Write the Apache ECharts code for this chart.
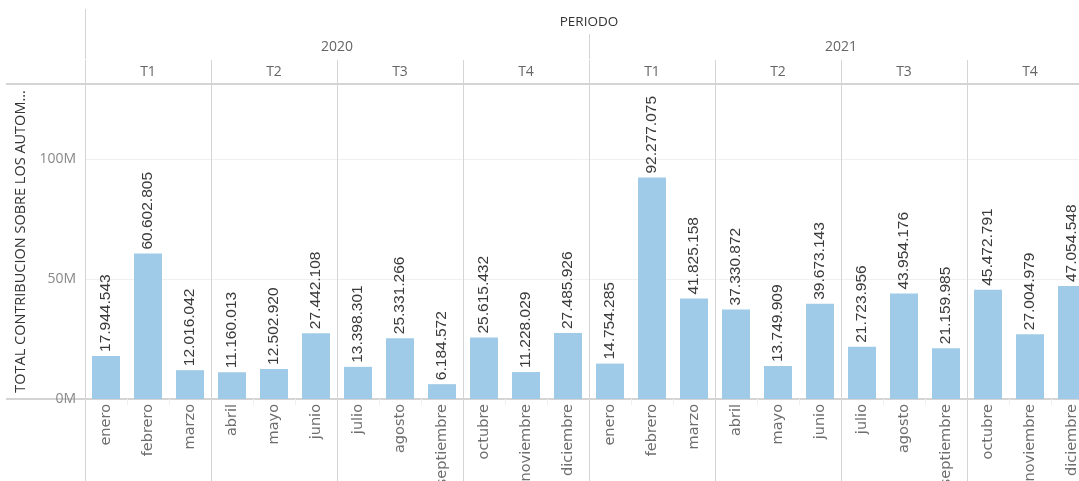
<!DOCTYPE html>
<html>
<head>
<meta charset="utf-8">
<script src="https://cdn.jsdelivr.net/npm/echarts@6/dist/echarts.min.js"></script>
<style>
html,body{margin:0;padding:0;background:#fff;}
#c{width:1079px;height:481px;}
</style>
</head>
<body>
<div id="c"></div>
<script>
const months = ["enero","febrero","marzo","abril","mayo","junio","julio","agosto","septiembre","octubre","noviembre","diciembre",
                "enero","febrero","marzo","abril","mayo","junio","julio","agosto","septiembre","octubre","noviembre","diciembre"];
const quarters = ["T1","T2","T3","T4","T1","T2","T3","T4"];
const years = ["2020","2021"];
const values2020 = [17944543,60602805,12016042,11160013,12502920,27442108,13398301,25331266,6184572,25615432,11228029,27485926];
const values2021 = [14754285,92277075,41825158,37330872,13749909,39673143,21723956,43954176,21159985,45472791,27004979,47054548];
const values = values2020.concat(values2021);
const yTitle = "TOTAL CONTRIBUCION SOBRE LOS AUTOM…";

const GL = 85, GT = 84, GW = 1008, GH = 315;
const lineC = '#d4d4d4';
const fmt = v => String(v).replace(/\B(?=(\d{3})+(?!\d))/g, '.');

const chart = echarts.init(document.getElementById('c'), null, {renderer:'canvas'});
chart.setOption({
  animation:false,
  backgroundColor:'#fff',
  grid:{left:GL, top:GT, width:GW, height:GH, containLabel:false, outerBoundsMode:'none'},
  xAxis:[
    { // months
      type:'category', data:months, position:'bottom', gridIndex:0,
      axisLine:{show:true, lineStyle:{color:lineC, width:2}},
      axisTick:{show:true, length:6, lineStyle:{color:'#efefef'}},
      axisLabel:{rotate:90, color:'#6e6e6e', fontSize:14.5, fontFamily:'DejaVu Sans', margin:5, interval:0},
      splitLine:{show:false}
    },
    { // quarters top
      type:'category', data:quarters, position:'top', gridIndex:0, offset:0,
      axisLine:{show:true, lineStyle:{color:lineC, width:2}},
      axisTick:{show:true, length:24, lineStyle:{color:lineC}},
      axisLabel:{color:'#666', fontSize:14, fontFamily:'Open Sans', margin:5, interval:0},
      splitLine:{show:true, interval:0, lineStyle:{color:lineC}}
    },
    { // years
      type:'category', data:years, position:'top', gridIndex:0, offset:25,
      axisLine:{show:false},
      axisTick:{show:true, length:25, lineStyle:{color:lineC}},
      axisLabel:{color:'#666', fontSize:14, fontFamily:'Open Sans', margin:5, interval:0}
    },
    { // periodo
      type:'category', data:['PERIODO'], position:'top', gridIndex:0, offset:50,
      axisLine:{show:false},
      axisTick:{show:true, length:25, lineStyle:{color:lineC}},
      axisLabel:{color:'#333', fontSize:13.5, fontFamily:'Open Sans', margin:5}
    },
    { // quarter dividers below plot
      type:'category', data:quarters, position:'bottom', gridIndex:0, offset:0,
      axisLine:{show:false},
      axisTick:{show:true, length:85, lineStyle:{color:lineC}},
      axisLabel:{show:false}
    }
  ],
  yAxis:{
    type:'value', min:0, max:131.25e6, interval:50e6,
    name:yTitle, nameLocation:'middle', nameRotate:90, nameGap:56,
    nameTextStyle:{color:'#333', fontSize:14.5, fontFamily:'Open Sans'},
    axisLine:{show:true, lineStyle:{color:lineC}},
    axisTick:{show:false},
    axisLabel:{color:'#888', fontSize:14, fontFamily:'Open Sans', margin:9, showMaxLabel:false,
      formatter:v => Math.round(v/1e6) + 'M'},
    splitLine:{show:true, lineStyle:{color:'#f0f0f0'}}
  },
  series:[{
    type:'bar', xAxisIndex:0, data:values, barWidth:28,
    itemStyle:{color:'#a0cbe8'},
    label:{show:true, position:'top', rotate:90, align:'left', verticalAlign:'middle', distance:4,
      color:'#3a3a3a', fontSize:15.5, fontFamily:'Liberation Sans', formatter:p => fmt(p.value)}
  }],
  graphic:[
    {type:'line', shape:{x1:6, y1:GT, x2:GL, y2:GT}, style:{stroke:lineC, lineWidth:2}},
    {type:'line', shape:{x1:6, y1:GT+GH, x2:GL, y2:GT+GH}, style:{stroke:lineC, lineWidth:2}}
  ]
});
</script>
</body>
</html>
